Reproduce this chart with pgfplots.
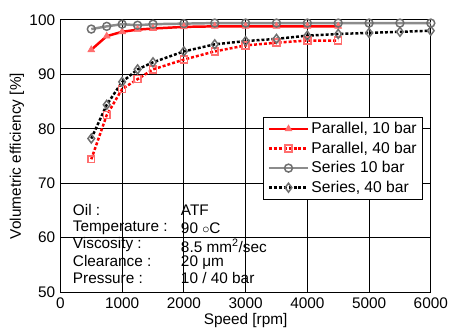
\documentclass[border=0pt]{standalone}
\usepackage{fontspec}
\setmainfont{Liberation Sans}
\usepackage{pgfplots}
\pgfplotsset{compat=1.18}
\definecolor{pinkm}{RGB}{255,110,110}
\definecolor{graym}{RGB}{110,110,110}
\definecolor{grayl}{RGB}{140,140,140}
\begin{document}
\fontsize{15.5}{18}\selectfont
\begin{tikzpicture}
\begin{axis}[
  name=main,
  scale only axis,
  width=374pt, height=275pt,
  xmin=0, xmax=6000, ymin=50, ymax=100,
  xtick={0,1000,...,6000}, ytick={50,60,...,100},
  grid=major, grid style={black, line width=0.9pt},
  axis line style={line width=1.2pt},
  tick style={draw=none},
  scaled x ticks=false,
  /pgf/number format/assume math mode=true,
  /pgf/number format/1000 sep={},
  ticklabel style={font=\fontsize{15.5}{18}\selectfont},
  label style={font=\fontsize{15.5}{18}\selectfont},
  xlabel={Speed [rpm]},
  ylabel={Volumetric efficiency [\%]},
  xlabel style={yshift=5pt},
  ylabel style={yshift=-5pt},
  legend style={at={(0.979,0.644)}, anchor=north east, draw=black, line width=0.8pt,
    font=\fontsize{15.8}{17}\selectfont, row sep=2pt, inner xsep=4pt, inner ysep=3pt, legend cell align=left},
  legend image code/.code={\draw[line width=2.5pt, mark repeat=2,mark phase=2] plot coordinates {(0cm,0cm) (0.7cm,0cm) (1.4cm,0cm)};},
]
\addplot[red, line width=2.5pt, mark=triangle*, mark size=4pt, mark options={solid, fill=pinkm, draw=pinkm, line width=0.6pt}]
coordinates {(500,94.5)(750,97.0)(1000,97.8)(1250,98.2)(1500,98.4)(2000,98.7)(2500,98.8)(3000,98.8)(3500,98.8)(4000,98.8)(4500,98.8)};
\addlegendentry{Parallel, 10 bar}
\addplot[red, line width=2.5pt, dash pattern=on 3pt off 2pt, mark=square, mark size=3.5pt, mark options={solid, draw=pinkm, line width=1.5pt}]
coordinates {(500,74.4)(750,82.5)(1000,87.3)(1250,89.1)(1500,90.9)(2000,92.7)(2500,94.2)(3000,95.3)(3500,95.8)(4000,96.2)(4500,96.2)};
\addlegendentry{Parallel, 40 bar}
\addplot[grayl, line width=2.5pt, mark=o, mark size=4pt, mark options={solid, draw=graym, line width=1.5pt}]
coordinates {(500,98.3)(750,98.8)(1000,99.2)(1250,99.0)(1500,99.2)(2000,99.3)(2500,99.4)(3000,99.4)(3500,99.4)(4000,99.4)(4500,99.4)(5000,99.4)(5500,99.4)(6000,99.4)};
\addlegendentry{Series 10 bar}
\addplot[black, line width=2.5pt, dash pattern=on 3pt off 2pt, mark=diamond, mark size=4.5pt, mark options={solid, draw=graym, line width=1.5pt}]
coordinates {(500,78.2)(750,84.4)(1000,88.6)(1250,90.9)(1500,92.2)(2000,94.2)(2500,95.5)(3000,96.1)(3500,96.5)(4000,97.1)(4500,97.4)(5000,97.6)(5500,97.8)(6000,98.0)};
\addlegendentry{Series, 40 bar}
\node[anchor=west, inner sep=0pt] at (axis cs:200,65.0) {Oil :};
\node[anchor=west, inner sep=0pt] at (axis cs:200,61.8) {Temperature :};
\node[anchor=west, inner sep=0pt] at (axis cs:200,58.7) {Viscosity :};
\node[anchor=west, inner sep=0pt] at (axis cs:200,55.7) {Clearance :};
\node[anchor=west, inner sep=0pt] at (axis cs:200,52.6) {Pressure :};
\node[anchor=west, inner sep=0pt] at (axis cs:1950,65.0) {ATF};
\node[anchor=west, inner sep=0pt] at (axis cs:1950,61.8) {90 $\circ$C};
\node[anchor=west, inner sep=0pt] at (axis cs:1950,58.5) {8.5 mm\textsuperscript{2}/sec};
\node[anchor=west, inner sep=0pt] at (axis cs:1950,55.5) {20 μm};
\node[anchor=west, inner sep=0pt] at (axis cs:1950,52.6) {10 / 40 bar};
\end{axis}
\path (main.south west) ++(-61pt,-43pt) rectangle ++(453pt,338pt);
\end{tikzpicture}
\end{document}
